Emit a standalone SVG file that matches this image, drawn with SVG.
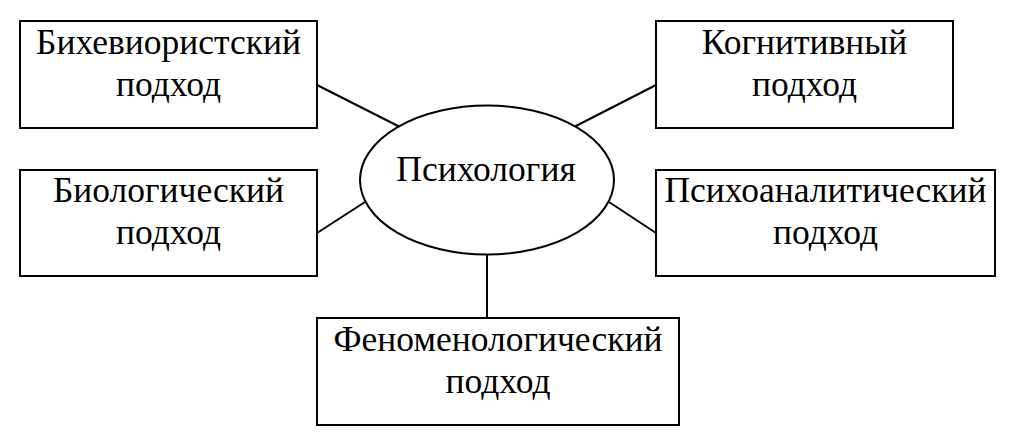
<svg xmlns="http://www.w3.org/2000/svg" width="1024" height="444" viewBox="0 0 1024 444">
<style>
.box{fill:#fff;stroke:#000;stroke-width:2}
.t{font-family:"Liberation Serif","Times New Roman",serif;font-size:35.5px;fill:#000;text-anchor:middle}
.c{stroke:#000;stroke-width:2;fill:none}
</style>
<rect width="1024" height="444" fill="#fff"/>
<g id="connectors">
<line class="c" x1="317" y1="85" x2="402" y2="128"/>
<line class="c" x1="317" y1="233" x2="365" y2="202"/>
<line class="c" x1="656" y1="85" x2="572" y2="128"/>
<line class="c" x1="609" y1="202" x2="656" y2="233"/>
<line class="c" x1="487" y1="254" x2="487" y2="318"/>
</g>
<g id="center">
<ellipse class="box" cx="487" cy="180" rx="127" ry="74.5"/>
<text class="t" x="486" y="181">Психология</text>
</g>
<g id="behav">
<rect class="box" x="20" y="21" width="297" height="107"/>
<text class="t" x="168.5" y="54">Бихевиористский</text>
<text class="t" x="168.5" y="96">подход</text>
</g>
<g id="bio">
<rect class="box" x="20" y="170" width="297" height="106"/>
<text class="t" x="168.5" y="202">Биологический</text>
<text class="t" x="168.5" y="244">подход</text>
</g>
<g id="cogn">
<rect class="box" x="656" y="21" width="297" height="107"/>
<text class="t" x="804.5" y="54">Когнитивный</text>
<text class="t" x="804.5" y="96">подход</text>
</g>
<g id="psychoan">
<rect class="box" x="656" y="170" width="339" height="106"/>
<text class="t" x="825.5" y="202">Психоаналитический</text>
<text class="t" x="825.5" y="244">подход</text>
</g>
<g id="phenom">
<rect class="box" x="317" y="318" width="362" height="107"/>
<text class="t" x="498" y="351">Феноменологический</text>
<text class="t" x="498" y="393">подход</text>
</g>
</svg>
